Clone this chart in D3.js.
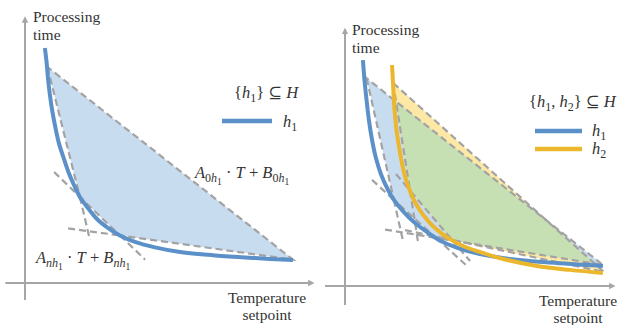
<!DOCTYPE html>
<html>
<head>
<meta charset="utf-8">
<script src="https://cdn.jsdelivr.net/npm/d3@7"></script>
<style>
  html, body { margin: 0; padding: 0; background: #fff; }
  svg { display: block; }
  text { font-family: "Liberation Serif", "Times New Roman", "DejaVu Serif", serif; fill: #333; }
</style>
</head>
<body>
<svg id="chart" width="617" height="325"></svg>
<script>
// ---------------- DATA (abstract units: temperature T, processing time P, 0..100) ----------------
// Left panel: hypothesis h1
const leftH1T = [7.1, 7.7, 8.2, 8.9, 9.8, 10.9, 12.1, 13.8, 15.5, 17.5, 19.6, 22.5, 25.7, 29.6, 33.9, 39.3, 46.4, 55.4, 67.9, 82.1, 95.7];
const leftH1P = [90.4, 85.0, 78.8, 72.3, 65.8, 59.6, 53.8, 48.1, 42.7, 37.7, 33.1, 28.8, 24.6, 21.2, 18.3, 15.8, 13.7, 11.9, 10.6, 9.6, 8.8];
const leftHullT = [8.0, 19.6, 33.9, 95.7];
const leftHullP = [83.1, 33.1, 18.3, 9.0];
const leftTangents = [[19.6, 33.1, 23.2, 16.5], [10.4, 42.7, 19.6, 33.1], [33.9, 18.3, 42.9, 9.0], [15.4, 21.0, 33.9, 18.3]];

// Right panel: hypotheses h1 and h2
const rightH1T = [6.9, 7.5, 8.3, 9.2, 10.4, 11.9, 13.8, 16.2, 18.8, 22.3, 26.5, 31.5, 36.9, 43.5, 51.9, 63.5, 78.8, 99.2];
const rightH1P = [86.9, 79.2, 71.5, 63.8, 56.2, 49.2, 43.1, 37.7, 33.1, 28.8, 24.6, 20.8, 17.3, 14.6, 12.3, 10.4, 9.0, 7.7];
const rightH1HullT = [8.3, 18.8, 35.0, 99.2];
const rightH1HullP = [79.9, 33.1, 18.5, 8.1];
const rightH1Tangents = [[18.8, 33.1, 22.5, 16.5], [10.4, 40.8, 18.8, 33.1], [35.0, 18.5, 46.5, 8.1], [15.4, 21.7, 35.0, 18.5]];

const rightH2T = [18.1, 18.5, 19.0, 19.8, 21.0, 22.3, 24.2, 26.9, 30.4, 34.6, 39.6, 45.4, 51.9, 60.8, 73.8, 86.5, 99.2];
const rightH2P = [85.0, 77.3, 68.5, 60.0, 52.3, 45.4, 38.5, 32.3, 26.9, 22.3, 18.5, 15.4, 13.1, 10.4, 7.7, 6.2, 5.0];
const rightH2HullT = [18.5, 25.0, 41.2, 99.6];
const rightH2HullP = [78.1, 36.7, 17.7, 5.4];
const rightH2Tangents = [[25.0, 36.7, 28.1, 16.9], [19.6, 43.1, 25.0, 36.7], [41.2, 17.7, 48.1, 9.6], [23.1, 21.5, 41.2, 17.7]];

// Text
const yLabel = ["Processing", "time"];
const xLabel = ["Temperature", "setpoint"];
const seriesNames = ["h1", "h2"];

// ---------------- STYLE ----------------
const C = {
  axis: "#a6a6a6",
  dash: "#a3a3a3",
  blue: "#5b90c9",
  gold: "#ecb72c",
  blueFill: "#c8dcf0",
  goldFill: "#fde8a6",
  greenFill: "#c6e0b3"
};
const SERIF = "'Liberation Serif', 'Times New Roman', 'DejaVu Serif', serif";

const svg = d3.select("#chart");
const defs = svg.append("defs");
defs.append("marker").attr("id", "arrow").attr("viewBox", "0 0 6 6")
  .attr("refX", 1).attr("refY", 3).attr("markerWidth", 3.2).attr("markerHeight", 3.2)
  .attr("orient", "auto").append("path").attr("d", "M0,0 L6,3 L0,6 Z").attr("fill", C.axis);

const zip = (T, P) => T.map((t, i) => [t, P[i]]);

function panel(cfg) {
  const x = d3.scaleLinear().domain([0, 100]).range(cfg.xr);
  const y = d3.scaleLinear().domain([0, 100]).range(cfg.yr);
  const g = svg.append("g");
  const line = d3.line().x(d => x(d[0])).y(d => y(d[1]));
  const curve = d3.line().x(d => x(d[0])).y(d => y(d[1])).curve(d3.curveCatmullRom.alpha(0.5));

  // axes
  g.append("line").attr("x1", x(cfg.xAxisExt[0])).attr("x2", x(cfg.xAxisExt[1]))
    .attr("y1", y(0)).attr("y2", y(0)).attr("stroke", C.axis).attr("stroke-width", 2)
    .attr("marker-end", "url(#arrow)");
  g.append("line").attr("x1", x(0)).attr("x2", x(0))
    .attr("y1", y(cfg.yAxisExt[0])).attr("y2", y(cfg.yAxisExt[1])).attr("stroke", C.axis).attr("stroke-width", 2)
    .attr("marker-end", "url(#arrow)");

  // hull fills
  cfg.series.forEach((s, i) => {
    const pts = zip(s.hullT, s.hullP);
    const id = cfg.id + "clip" + i;
    defs.append("clipPath").attr("id", id).append("path").attr("d", line(pts) + "Z");
    g.append("path").attr("d", line(pts) + "Z").attr("fill", s.fill).attr("stroke", "none");
  });
  if (cfg.series.length > 1) {
    const pts = zip(cfg.series[1].hullT, cfg.series[1].hullP);
    g.append("path").attr("d", line(pts) + "Z").attr("fill", C.greenFill)
      .attr("clip-path", "url(#" + cfg.id + "clip0)");
  }
  // dashed hull + tangents
  cfg.series.forEach(s => {
    const pts = zip(s.hullT, s.hullP);
    g.append("path").attr("d", line(pts) + "Z").attr("fill", "none")
      .attr("stroke", C.dash).attr("stroke-width", 2.2).attr("stroke-dasharray", "7 4");
    s.tangents.forEach(t => {
      g.append("line").attr("x1", x(t[0])).attr("y1", y(t[1])).attr("x2", x(t[2])).attr("y2", y(t[3]))
        .attr("stroke", C.dash).attr("stroke-width", 2.2).attr("stroke-dasharray", "7 4");
    });
  });
  // curves
  cfg.series.forEach(s => {
    g.append("path").attr("d", curve(zip(s.T, s.P))).attr("fill", "none")
      .attr("stroke", s.color).attr("stroke-width", 4).attr("stroke-linecap", "butt");
  });

  // axis labels
  const yl = g.append("text").attr("font-size", 15.5).style("font-family", SERIF);
  yLabel.forEach((w, i) => yl.append("tspan").attr("x", cfg.yLab[0]).attr("y", cfg.yLab[1] + i * 18).text(w));
  const xl = g.append("text").attr("font-size", 15.5).attr("text-anchor", "middle").style("font-family", SERIF);
  xLabel.forEach((w, i) => xl.append("tspan").attr("x", cfg.xLab[0]).attr("y", cfg.xLab[1] + i * 17).text(w));
  return { g, x, y };
}

// math text helper
const sizes = [16.5, 12, 9.5], offs = [0, 4, 7];
function mathText(g, px, py, parts) {
  const t = g.append("text").attr("x", px).attr("y", py)
    .style("font-family", SERIF).attr("xml:space", "preserve");
  let prev = 0;
  parts.forEach(p => {
    const lvl = p[2] || 0;
    t.append("tspan").attr("dy", offs[lvl] - offs[prev]).attr("font-size", sizes[lvl])
      .attr("font-style", p[1] ? "italic" : "normal").text(p[0]);
    prev = lvl;
  });
  return t;
}
const sub = (n) => [n, 0, 2];

// LEFT PANEL
const L = panel({
  id: "L", xr: [25, 305], yr: [283, 23], xAxisExt: [-7, 101.5], yAxisExt: [-6.5, 100.5],
  yLab: [33, 22], xLab: [267, 303],
  series: [{ T: leftH1T, P: leftH1P, hullT: leftHullT, hullP: leftHullP, tangents: leftTangents, color: C.blue, fill: C.blueFill }]
});
mathText(L.g, 234, 98, [["{", 0], ["h", 1], ["1", 0, 1], ["} ⊆ ", 0], ["H", 1]]);
L.g.append("line").attr("x1", 222).attr("x2", 272).attr("y1", 121).attr("y2", 121).attr("stroke", C.blue).attr("stroke-width", 4.5);
mathText(L.g, 283, 127, [["h", 1], ["1", 0, 1]]);
mathText(L.g, 195, 178, [["A", 1], ["0", 0, 1], ["h", 1, 1], sub("1"), [" · ", 0, 0], ["T", 1], [" + ", 0], ["B", 1], ["0", 0, 1], ["h", 1, 1], sub("1")]);
mathText(L.g, 36, 263, [["A", 1], ["n", 1, 1], ["h", 1, 1], sub("1"), [" · ", 0, 0], ["T", 1], [" + ", 0], ["B", 1], ["n", 1, 1], ["h", 1, 1], sub("1")]);

// RIGHT PANEL
const R = panel({
  id: "R", xr: [345, 605], yr: [286, 26], xAxisExt: [-7.7, 102], yAxisExt: [-7.3, 97.3],
  yLab: [352, 35], xLab: [578, 306],
  series: [
    { T: rightH1T, P: rightH1P, hullT: rightH1HullT, hullP: rightH1HullP, tangents: rightH1Tangents, color: C.blue, fill: C.blueFill },
    { T: rightH2T, P: rightH2P, hullT: rightH2HullT, hullP: rightH2HullP, tangents: rightH2Tangents, color: C.gold, fill: C.goldFill }
  ]
});
mathText(R.g, 529, 107, [["{", 0], ["h", 1], ["1", 0, 1], [", ", 0], ["h", 1], ["2", 0, 1], ["} ⊆ ", 0], ["H", 1]]);
[C.blue, C.gold].forEach((c, i) => {
  R.g.append("line").attr("x1", 535).attr("x2", 582).attr("y1", 131 + i * 18).attr("y2", 131 + i * 18)
    .attr("stroke", c).attr("stroke-width", 4.5);
  mathText(R.g, 592, 136 + i * 18, [[seriesNames[i][0], 1], [seriesNames[i].slice(1), 0, 1]]);
});
</script>
</body>
</html>
